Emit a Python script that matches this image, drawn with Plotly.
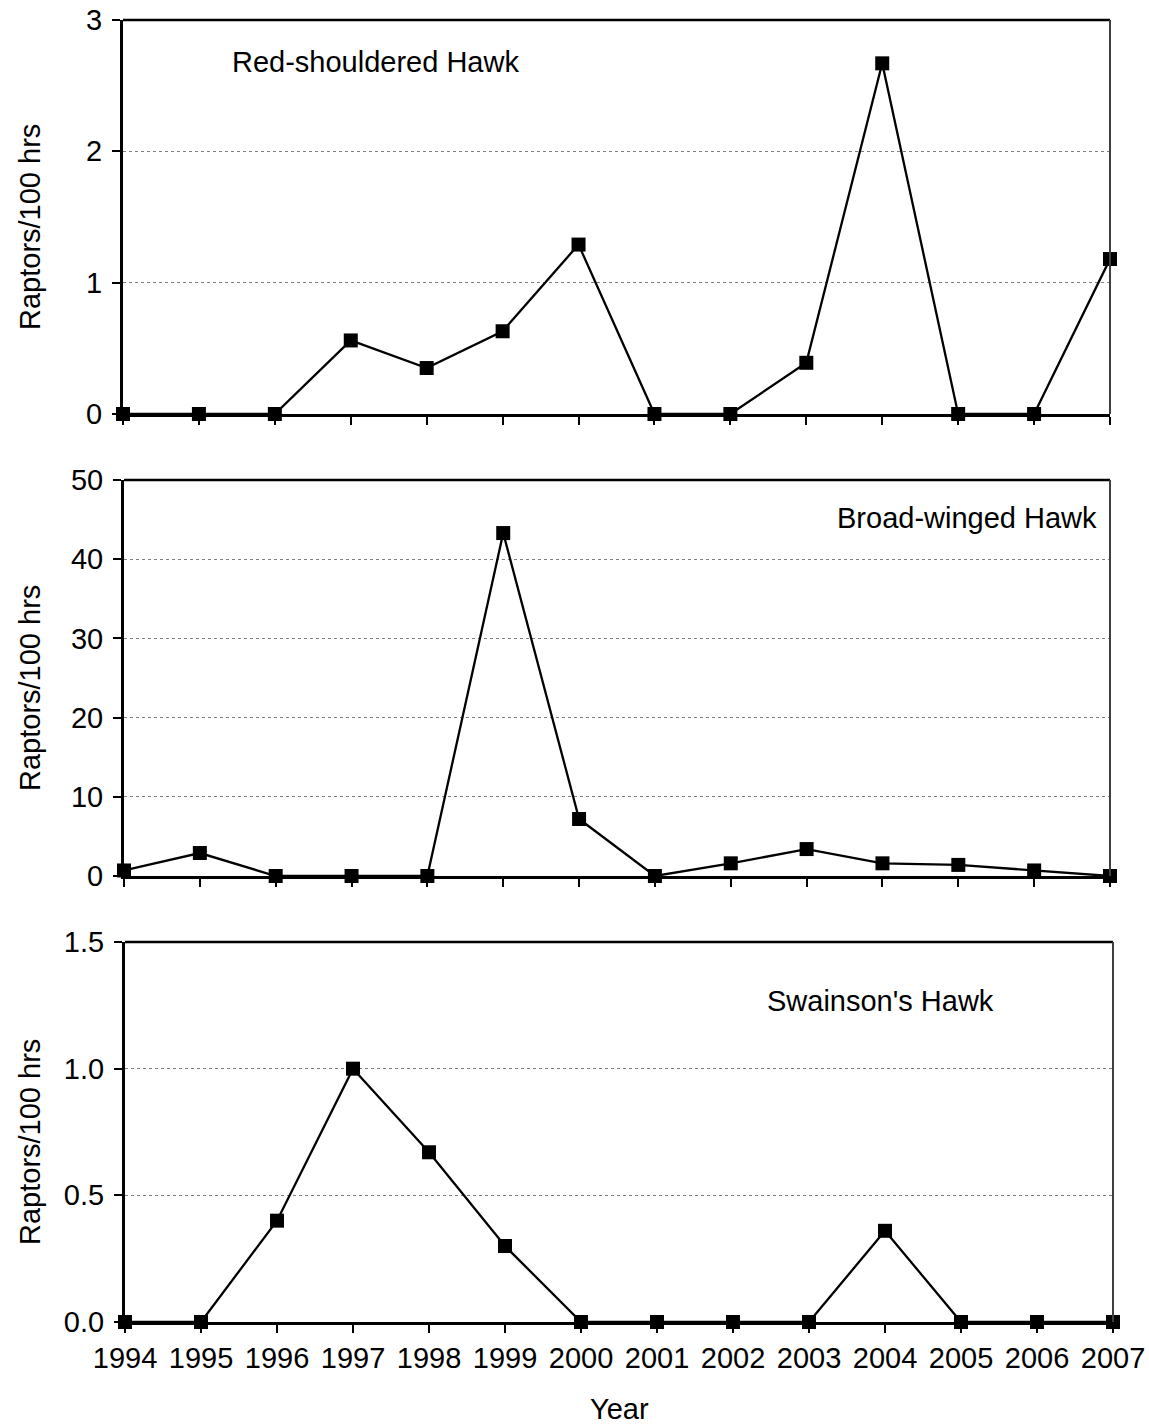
import plotly.graph_objects as go

W, H = 1149, 1427

years = list(range(1994, 2008))
year_labels = [str(y) for y in years]

red_shouldered = [0, 0, 0, 0.56, 0.35, 0.63, 1.29, 0, 0, 0.39, 2.67, 0, 0, 1.18]
broad_winged = [0.7, 2.9, 0, 0, 0, 43.3, 7.2, 0, 1.6, 3.4, 1.6, 1.4, 0.7, 0]
swainsons = [0, 0, 0.40, 1.0, 0.67, 0.30, 0, 0, 0, 0, 0.36, 0, 0, 0]

species = ["Red-shouldered Hawk", "Broad-winged Hawk", "Swainson's Hawk"]
y_title = "Raptors/100 hrs"
x_title = "Year"

FONT = "Arial, Liberation Sans, sans-serif"
FS = 29


def px_x(p):
    return p / W


def px_y(p):
    return 1 - p / H


# panel geometry in screenshot pixels: (left, right, top, bottom)
panels = [
    (123, 1110, 20, 414),
    (124, 1110, 480, 876),
    (125, 1113, 942, 1322),
]
yranges = [(0, 3, 1, "d"), (0, 50, 10, "d"), (0, 1.5, 0.5, ".1f")]
series = [red_shouldered, broad_winged, swainsons]

fig = go.Figure()
for i, (data, (l, r, t, b), (y0, y1, dt, fmt)) in enumerate(zip(series, panels, yranges)):
    n = "" if i == 0 else str(i + 1)
    fig.add_trace(go.Scatter(
        x=years, y=data, mode="lines+markers",
        line=dict(color="black", width=2.3),
        marker=dict(symbol="square", size=14, color="black"),
        cliponaxis=False, showlegend=False,
        xaxis="x" + n, yaxis="y" + n,
    ))
    xa = dict(
        domain=[px_x(l), px_x(r)], range=[1994, 2007], anchor="y" + n,
        tickmode="array", tickvals=years,
        ticktext=year_labels if i == 2 else [""] * len(years),
        showticklabels=(i == 2),
        ticks="outside", ticklen=8, tickwidth=2, tickcolor="black",
        showline=True, linecolor="black", linewidth=3,
        showgrid=False, zeroline=False,
        tickfont=dict(family=FONT, size=FS, color="black"),
        ticklabeloverflow="allow",
        automargin=False,
    )
    ya = dict(
        domain=[px_y(b), px_y(t)], range=[y0, y1], anchor="x" + n,
        tick0=0, dtick=dt, tickformat=fmt,
        ticks="outside", ticklen=8, tickwidth=2, tickcolor="black",
        showline=True, linecolor="black", linewidth=3,
        showgrid=True, gridcolor="#808080", griddash="dot", gridwidth=1,
        zeroline=False,
        tickfont=dict(family=FONT, size=FS, color="black"),
        ticklabelstandoff=4,
        ticklabeloverflow="allow",
        automargin=False,
    )
    fig.update_layout(**{"xaxis" + n: xa, "yaxis" + n: ya})
    # plot area border: top and right edges
    fig.add_shape(type="line", xref="paper", yref="paper",
                  x0=px_x(l), x1=px_x(r), y0=px_y(t), y1=px_y(t),
                  line=dict(color="black", width=2.5), layer="above")
    fig.add_shape(type="line", xref="paper", yref="paper",
                  x0=px_x(r), x1=px_x(r), y0=px_y(b), y1=px_y(t),
                  line=dict(color="#404040", width=2), layer="above")

ann = []
ann.append(dict(text=species[0], x=px_x(230), y=px_y(62), xanchor="left", yanchor="middle"))
ann.append(dict(text=species[1], x=px_x(835), y=px_y(518), xanchor="left", yanchor="middle"))
ann.append(dict(text=species[2], x=px_x(765), y=px_y(1001), xanchor="left", yanchor="middle"))
for (l, r, t, b) in panels:
    ann.append(dict(text=y_title, x=px_x(30), y=px_y((t + b) / 2 + 10), textangle=-90,
                    xanchor="center", yanchor="middle"))
ann.append(dict(text=x_title, x=px_x(619), y=px_y(1409), xanchor="center", yanchor="middle"))
for a in ann:
    a.update(xref="paper", yref="paper", showarrow=False,
             font=dict(family=FONT, size=FS, color="black"))

fig.update_layout(
    width=W, height=H,
    margin=dict(l=0, r=0, t=0, b=0),
    paper_bgcolor="white", plot_bgcolor="white",
    annotations=ann,
)
fig.write_html(
    "out.html",
    config={"displayModeBar": False},
    post_script="document.body.style.margin='0';document.body.style.overflow='hidden';",
)
